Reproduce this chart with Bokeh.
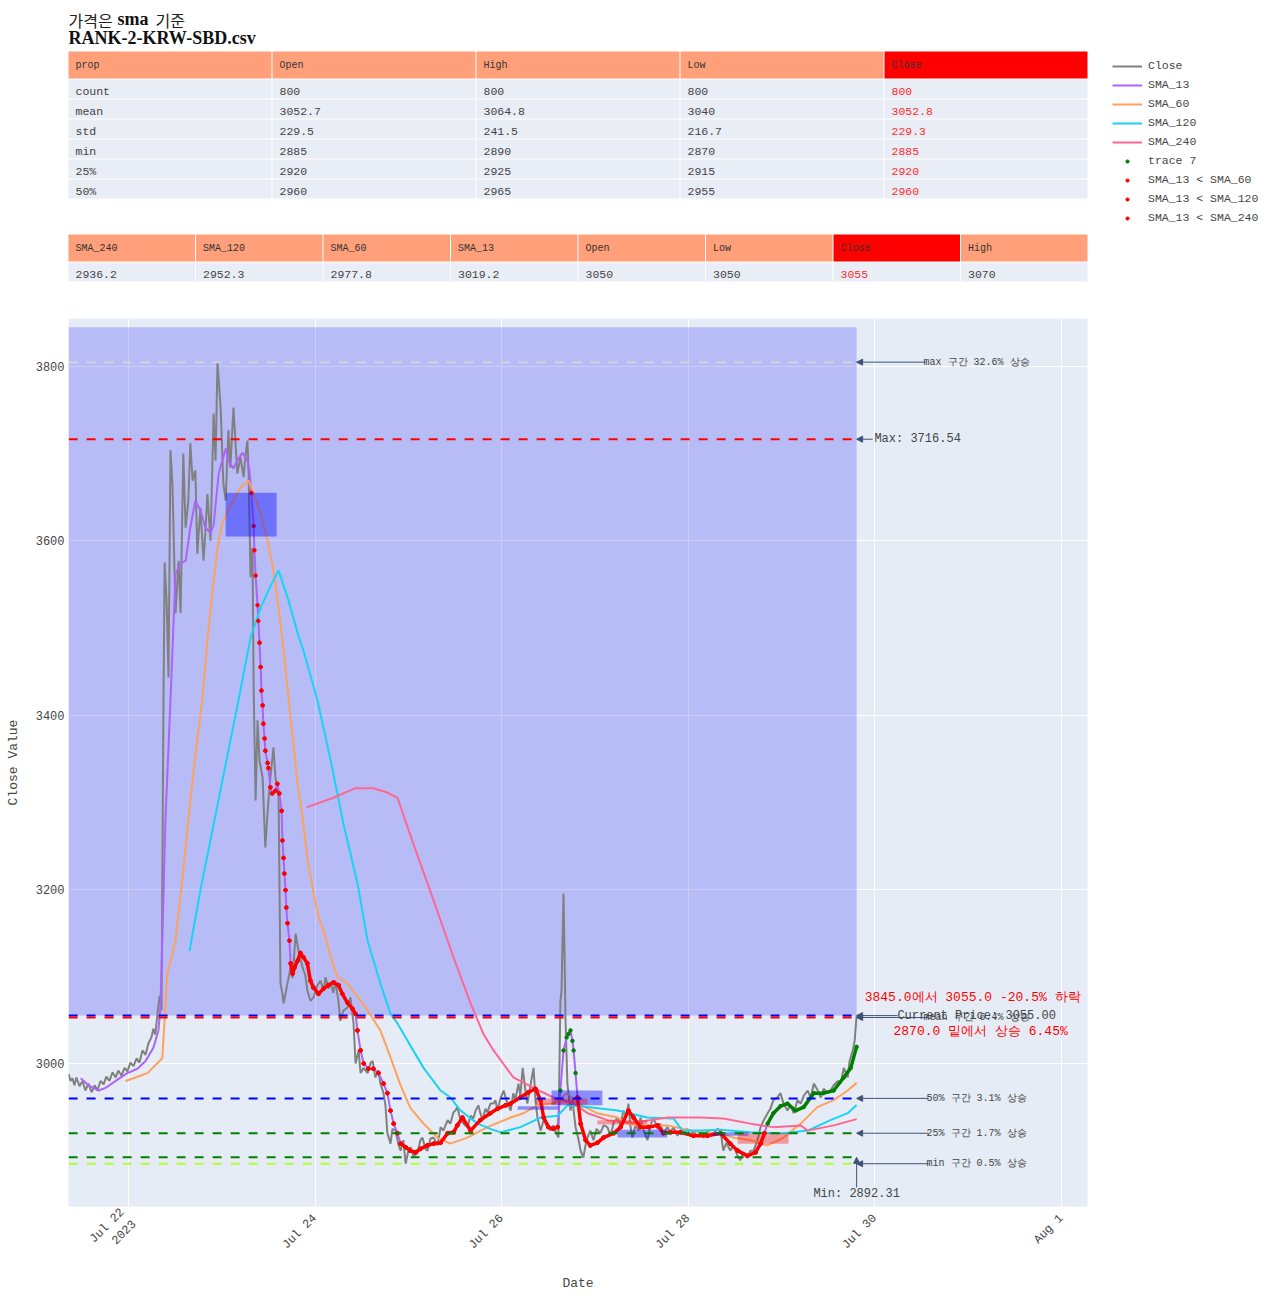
import math
import pandas as pd
from bokeh.plotting import figure
from bokeh.models import (Range1d, Legend, LegendItem, FixedTicker, Label, Arrow, NormalHead)
from bokeh.layouts import column, row
from bokeh.core.properties import value
from bokeh.embed import file_html
from bokeh.resources import INLINE

MONO = "Liberation Mono"
SERIF = "Liberation Serif"
KR = "Noto Sans CJK KR"

# ---------------- data ----------------
title_parts = ["가격은", "sma", "기준"]
title_line2 = "RANK-2-KRW-SBD.csv"

stats_header = ["prop", "Open", "High", "Low", "Close"]
stats_props = ["count", "mean", "std", "min", "25%", "50%"]
stats_open = [800, 3052.7, 229.5, 2885, 2920, 2960]
stats_high = [800, 3064.8, 241.5, 2890, 2925, 2965]
stats_low = [800, 3040, 216.7, 2870, 2915, 2955]
stats_close = [800, 3052.8, 229.3, 2885, 2920, 2960]

last_header = ["SMA_240", "SMA_120", "SMA_60", "SMA_13", "Open", "Low", "Close", "High"]
last_values = [2936.2, 2952.3, 2977.8, 3019.2, 3050, 3050, 3055, 3070]

# time in hours from 2023-07-22 00:00
close_h = [-15.4, -14.9, -14.4, -13.9, -13.4, -12.6, -11.8, -11.1, -10.3, -9.5, -8.7, -8.0, -7.2, -6.4,
           -5.7, -4.9, -4.1, -3.3, -2.6, -1.8, -1.0, -0.3, 0.5, 1.3, 2.1, 2.8, 3.6, 4.4, 5.1, 5.9, 6.4,
           6.9, 7.5, 8.0, 8.5, 9.0, 9.3, 9.8, 10.3, 10.8, 11.3, 12.1, 12.9, 13.4, 14.1, 14.7, 15.4, 15.9,
           16.5, 17.2, 17.7, 18.5, 19.3, 19.8, 20.3, 21.1, 21.9, 22.4, 22.9, 23.7, 24.4, 25.0, 25.7, 26.2,
           27.0, 27.5, 28.0, 28.8, 29.6, 30.1, 30.6, 30.9, 31.4, 31.9, 32.2, 32.7, 33.2, 33.7, 34.5, 35.2,
           35.8, 36.5, 37.3, 37.8, 38.6, 39.1, 39.6, 39.9, 40.9, 41.7, 42.2, 43.0, 43.7, 44.8, 45.5, 46.0,
           46.8, 47.6, 48.6, 49.4, 50.2, 50.7, 51.4, 52.0, 52.7, 53.2, 54.0, 54.5, 55.3, 56.3, 57.1, 57.9,
           58.4, 59.2, 59.7, 60.5, 61.5, 62.3, 62.8, 63.5, 64.3, 64.8, 65.6, 66.1, 66.6, 67.4, 67.9, 68.7,
           69.5, 70.0, 70.7, 71.3, 72.0, 72.5, 73.3, 74.3, 75.1, 75.6, 76.4, 76.9, 77.7, 78.5, 79.5, 80.3,
           81.0, 82.1, 82.8, 83.6, 84.1, 84.6, 85.4, 86.2, 87.2, 88.0, 88.7, 89.3, 90.0, 90.5, 91.1, 91.8,
           92.3, 93.1, 93.9, 94.4, 94.9, 95.7, 96.5, 97.2, 98.3, 99.0, 99.5, 100.3, 100.8, 101.4, 102.1,
           102.6, 103.4, 104.2, 104.7, 105.2, 106.0, 106.8, 107.8, 108.6, 109.3, 109.8, 110.6, 111.1,
           111.4, 111.9, 112.2, 112.4, 112.9, 113.7, 114.2, 115.0, 115.8, 116.3, 117.0, 117.8, 118.8,
           119.6, 120.4, 121.4, 122.2, 123.2, 124.0, 124.8, 125.8, 126.6, 127.3, 128.1, 128.6, 129.1,
           129.6, 130.4, 131.2, 131.7, 132.5, 133.5, 134.3, 135.0, 136.1, 136.8, 137.6, 138.6, 139.4,
           140.2, 141.2, 142.0, 142.8, 143.8, 144.5, 145.3, 146.4, 147.1, 147.9, 148.9, 149.7, 150.5,
           151.5, 152.3, 153.0, 153.8, 154.8, 155.6, 156.7, 157.4, 158.2, 159.2, 160.0, 160.8, 161.8,
           162.6, 163.4, 164.4, 165.1, 165.9, 166.9, 167.7, 168.5, 169.5, 170.3, 171.1, 172.1, 172.9,
           173.7, 174.7, 175.5, 176.3, 177.3, 178.1, 178.8, 179.9, 180.6, 181.4, 182.5, 183.2, 184.0,
           185.0, 185.5, 186.3, 186.8, 187.0, 187.3]
close_v = [2988, 2980, 2983, 2975, 2984, 2974, 2980, 2969, 2977, 2967, 2975, 2969, 2980, 2976,
           2985, 2980, 2990, 2984, 2992, 2986, 2995, 2991, 3001, 2997, 3006, 3001, 3015, 3010, 3023, 3030, 3040,
           3033, 3059, 3078, 3061, 3417, 3575, 3531, 3443, 3704, 3666, 3517, 3577, 3517, 3700, 3615, 3646, 3712,
           3669, 3681, 3585, 3638, 3577, 3612, 3654, 3600, 3746, 3692, 3805, 3753, 3666, 3646, 3727, 3684,
           3753, 3715, 3677, 3696, 3673, 3698, 3715, 3677, 3558, 3592, 3428, 3302, 3394, 3348, 3328, 3248,
           3290, 3328, 3363, 3328, 3310, 3092, 3080, 3069, 3092, 3110, 3098, 3149, 3130, 3110, 3101, 3084,
           3072, 3076, 3090, 3095, 3084, 3099, 3086, 3092, 3081, 3095, 3072, 3049, 3061, 3064, 3076, 3046,
           3000, 3015, 2989, 2995, 2989, 3001, 3003, 2984, 2992, 2977, 2966, 2952, 2920, 2908, 2925, 2923,
           2906, 2900, 2912, 2885, 2900, 2904, 2894, 2897, 2912, 2915, 2902, 2900, 2914, 2915, 2906, 2927,
           2923, 2935, 2931, 2944, 2946, 2950, 2935, 2931, 2927, 2940, 2937, 2946, 2952, 2943, 2935, 2948,
           2944, 2954, 2954, 2958, 2946, 2960, 2969, 2958, 2946, 2966, 2958, 2977, 2963, 2995, 2969,
           2954, 2975, 2995, 2958, 2938, 2923, 2935, 2931, 2923, 2929, 2923, 2915, 3072,
           3084, 3195, 3118, 3053, 2977, 2946, 2958, 2927, 2912, 2900, 2892, 2912, 2923,
           2912, 2925, 2920, 2929, 2927, 2917, 2932, 2938, 2929, 2946, 2940, 2954, 2929,
           2915, 2929, 2923, 2938, 2923, 2912, 2929, 2938, 2925, 2931, 2920, 2927, 2921,
           2927, 2917, 2923, 2920, 2925, 2917, 2923, 2916, 2920, 2915, 2923, 2918, 2920,
           2925, 2923, 2900, 2909, 2900, 2906, 2894, 2889, 2898, 2892, 2900, 2900, 2912,
           2927, 2935, 2943, 2948, 2958, 2961, 2966, 2954, 2946, 2952, 2943, 2958, 2954,
           2963, 2969, 2961, 2977, 2969, 2961, 2971, 2966, 2969, 2975, 2980, 2977, 2995,
           2984, 3003, 3015, 3026, 3038, 3055]

sma13_h = [-12.3, -10.3, -7.7, -5.9, -3.3, -0.3, 2.3, 4.4, 6.4, 7.7, 8.2, 8.7, 9.5, 10.8, 12.1, 13.4,
           14.7, 15.9, 17.2, 18.5, 19.8, 21.1, 21.9, 23.2, 25.0, 25.7, 27.0, 28.0, 29.3, 30.6, 31.1,
           31.6, 32.2, 32.4, 32.7, 33.2, 33.4, 33.7, 34.0, 34.2, 34.5, 34.7, 35.0, 35.2, 35.8, 36.0,
           36.5, 37.0, 37.8, 38.3, 38.8, 39.4, 39.6, 39.9, 40.1, 40.4, 40.6, 40.9, 41.4, 41.7, 42.2,
           42.7, 43.5, 44.2, 45.0, 46.0, 46.8, 47.6, 48.9, 50.2, 51.4, 52.7, 54.0, 55.0, 56.3, 57.6,
           58.4, 58.9, 59.7, 60.5, 61.7, 63.0, 64.3, 65.6, 66.6, 67.4, 68.2, 69.2, 70.0, 71.3, 72.5,
           73.8, 75.1, 76.9, 78.5, 80.3, 82.1, 83.6, 84.6, 85.9, 88.0, 90.5, 93.1, 94.9, 97.0, 98.3,
           100.8, 102.9, 104.7, 106.0, 106.8, 108.0, 109.3, 110.4, 111.1, 111.9, 112.7, 113.2, 113.7,
           114.2, 114.5, 115.0, 115.5, 116.3, 117.6, 118.8, 120.6, 122.2, 124.8, 126.6, 128.6, 129.9,
           131.7, 133.8, 136.1, 137.6, 139.4, 142.0, 145.3, 148.9, 152.3, 154.8, 156.7, 159.2, 161.3,
           162.6, 163.6, 164.4, 165.9, 167.7, 169.5, 171.6, 173.7, 176.3, 178.8, 181.4, 184.0, 185.8,
           187.3]
sma13_v = [2983, 2975, 2969, 2972, 2980, 2989, 2994, 3003, 3018, 3038, 3064, 3141, 3279, 3417, 3562, 3574,
           3577, 3615, 3646, 3635, 3615, 3609, 3618, 3677, 3706, 3692, 3683, 3692, 3701, 3692, 3681,
           3655, 3617, 3589, 3560, 3526, 3508, 3483, 3455, 3428, 3411, 3390, 3373, 3359, 3345, 3339,
           3317, 3310, 3313, 3321, 3310, 3290, 3256, 3236, 3218, 3199, 3179, 3161, 3141, 3115, 3103,
           3110, 3118, 3127, 3122, 3115, 3095, 3087, 3080, 3086, 3090, 3093, 3090, 3080, 3070, 3063,
           3057, 3038, 3015, 3000, 2994, 2994, 2989, 2977, 2966, 2946, 2931, 2920, 2908, 2904, 2900,
           2898, 2902, 2906, 2908, 2909, 2920, 2921, 2929, 2938, 2923, 2935, 2943, 2948, 2952, 2954,
           2961, 2967, 2971, 2958, 2938, 2927, 2925, 2927, 2969, 3015, 3030, 3034, 3038,
           3026, 3015, 2989, 2961, 2931, 2912, 2906, 2909, 2915, 2920, 2927, 2946, 2938,
           2927, 2927, 2929, 2920, 2921, 2921, 2917, 2917, 2920, 2908, 2900, 2894, 2898,
           2908, 2920, 2931, 2943, 2951, 2954, 2946, 2950, 2966, 2966, 2969, 2984, 2995,
           3019.2]

sma60_h = [-0.8, 1.8, 4.9, 6.9, 8.7, 10.0, 12.1, 14.1, 15.9, 17.7, 19.0, 20.3, 21.9, 22.9, 24.2, 25.7,
           27.5, 28.8, 30.1, 30.9, 32.2, 34.0, 35.8, 37.3, 38.6, 39.9, 41.7, 43.5, 44.8, 46.0, 47.6,
           48.9, 50.7, 52.5, 53.8, 56.3, 58.4, 61.5, 64.8, 67.4, 70.0, 72.5, 75.9, 79.5, 82.8, 87.2,
           92.3, 98.3, 101.6, 105.2, 109.3, 112.9, 115.5, 120.6, 125.8, 128.4, 131.7, 138.6, 142.8,
           147.1, 152.3, 155.6, 160.0, 164.4, 168.5, 172.9, 177.2, 181.4, 185.0, 187.3]
sma60_v = [2980, 2984, 2989, 2998, 3006, 3103, 3141, 3222, 3302, 3371, 3417, 3486, 3554, 3592, 3621, 3635,
           3650, 3661, 3666, 3669, 3654, 3631, 3600, 3566, 3523, 3474, 3397, 3321, 3282, 3236, 3195,
           3168, 3145, 3115, 3099, 3092, 3080, 3061, 3038, 3007, 2975, 2949, 2931, 2915, 2908, 2915,
           2927, 2938, 2943, 2952, 2954, 2966, 2954, 2943, 2938, 2931, 2929, 2929, 2925,
           2921, 2920, 2915, 2912, 2906, 2915, 2931, 2950, 2958, 2969, 2977.8]

sma120_h = [15.7, 18.5, 22.1, 25.2, 28.3, 31.4, 34.0, 36.0, 38.6, 41.2, 43.5, 45.0, 48.6, 52.0, 55.3,
            58.9, 61.5, 64.8, 67.4, 69.2, 71.8, 75.9, 80.3, 82.8, 85.4, 89.8, 93.1, 95.7, 100.8, 106.0,
            110.4, 112.9, 118.1, 125.8, 133.5, 140.2, 142.5, 147.1, 152.3, 160.0, 168.5, 174.7, 180.6,
            185.0, 187.3]
sma120_v = [3129, 3199, 3279, 3348, 3417, 3489, 3523, 3543, 3566, 3531, 3494, 3474, 3417, 3348, 3275,
            3207, 3141, 3092, 3057, 3046, 3026, 2995, 2969, 2961, 2946, 2931, 2925, 2921, 2927, 2938,
            2940, 2952, 2950, 2946, 2938, 2937, 2923, 2923, 2924, 2921, 2920, 2923, 2935,
            2943, 2952.3]

sma240_h = [45.8, 52.7, 58.4, 63.0, 66.6, 69.2, 73.3, 78.5, 83.6, 88.0, 91.3, 93.9, 99.0, 104.2, 109.3,
            114.5, 118.1, 123.2, 129.9, 138.6, 147.1, 153.0, 160.0, 165.9, 172.9, 174.7, 181.4, 187.3]
sma240_v = [3294, 3305, 3316, 3316, 3311, 3305, 3252, 3187, 3122, 3069, 3034, 3015, 2984, 2972, 2961,
            2954, 2943, 2935, 2932, 2938, 2938, 2937, 2931, 2927, 2929, 2923, 2929, 2936.2]

# SMA_13 condition periods (hours)
above_all_periods = [(110.9, 115.2), (164.2, 188.0)]
below_60_periods = [(31.5, 110.5), (115.3, 163.8)]
below_120_periods = [(33.5, 110.5), (115.3, 163.8)]
below_240_periods = [(45.8, 110.5), (115.3, 163.8)]

# highlighted zones: (start h, end h, low, high)
drop_zone = (-15.4, 187.3, 3055.0, 3845.0)
blue_zones = [(25.0, 38.1, 3605, 3655), (108.8, 121.9, 2952, 2969), (100.1, 110.6, 2947, 2951),
              (125.8, 138.6, 2915, 2924), (150.2, 159.5, 2917, 2921)]
red_zones = [(104.7, 118.1, 2953, 2960), (120.6, 133.5, 2930, 2935), (156.7, 169.8, 2908, 2920)]

level_values = [3805, 3716.54, 3055.0, 3052.8, 2960, 2920, 2892.31, 2885]
level_colors = ["lightgrey", "red", "blue", "red", "blue", "green", "green", "greenyellow"]

ann_texts = ["max 구간 32.6% 상승", "Max: 3716.54", "Current Price: 3055.00", "mean 구간 6.4% 상승",
             "50% 구간 3.1% 상승", "25% 구간 1.7% 상승", "min 구간 0.5% 상승"]
ann_values = [3805, 3716.54, 3055.0, 3052.8, 2960, 2920, 2885]
min_text = "Min: 2892.31"
min_value = 2892.31
drop_text = "3845.0에서 3055.0 -20.5% 하락"
rise_text = "2870.0 밑에서 상승 6.45%"

tick_days = ["2023-07-22", "2023-07-24", "2023-07-26", "2023-07-28", "2023-07-30", "2023-08-01"]
tick_labels = ["Jul 22\n2023", "Jul 24", "Jul 26", "Jul 28", "Jul 30", "Aug 1"]
y_ticks = [3000, 3200, 3400, 3600, 3800]

# ---------------- helpers ----------------
BASE_MS = pd.Timestamp("2023-07-22").value / 1e6
HOUR = 3600000.0


def tx(hours):
    return [BASE_MS + h * HOUR for h in hours]


def fmt(v):
    return f"{v:g}"


W = 1280
FRAME_L, FRAME_R, FRAME_B = 68, 193, 93

# ---------------- top panel (title, tables, legend) ----------------
TOP_H = 318
top = figure(width=W, height=TOP_H, x_range=Range1d(0, W), y_range=Range1d(TOP_H, 0),
             output_backend="svg", toolbar_location=None, min_border=0,
             x_axis_location=None, y_axis_location=None, outline_line_color=None,
             background_fill_color="white", border_fill_color="white")
top.grid.visible = False

# title
top.text(x=[68], y=[19], text=[title_parts[0]], text_font=value(KR), text_font_size="16px",
         text_baseline="middle", text_color="#222")
top.text(x=[117], y=[18], text=[title_parts[1]], text_font=value(SERIF), text_font_size="18px",
         text_font_style="bold", text_baseline="middle", text_color="#111")
top.text(x=[155], y=[19], text=[title_parts[2]], text_font=value(KR), text_font_size="16px",
         text_baseline="middle", text_color="#222")
top.text(x=[68], y=[37], text=[title_line2], text_font=value(SERIF), text_font_size="18px",
         text_font_style="bold", text_baseline="middle", text_color="#111")

CELL_BG = "#E9EDF6"
HEAD_BG = "#FFA07A"
TXT = "#444444"


def draw_table(fig, x0, x1, y_head, head_h, row_h, headers, rows, hl_col):
    n = len(headers)
    cw = (x1 - x0) / n
    lefts = [x0 + i * cw for i in range(n)]
    fig.quad(left=lefts, right=[l + cw - 1 for l in lefts], top=[y_head] * n,
             bottom=[y_head + head_h] * n,
             fill_color=["red" if i == hl_col else HEAD_BG for i in range(n)],
             line_color=None)
    fig.text(x=[l + 7 for l in lefts], y=[y_head + head_h / 2] * n, text=headers,
             text_font=value(MONO), text_font_size="10px", text_baseline="middle",
             text_color="#333333")
    for r, row_vals in enumerate(rows):
        yt = y_head + head_h + 1 + r * row_h
        fig.quad(left=lefts, right=[l + cw - 1 for l in lefts], top=[yt] * n,
                 bottom=[yt + row_h - 1] * n, fill_color=CELL_BG, line_color=None)
        fig.text(x=[l + 7 for l in lefts], y=[yt + row_h / 2 + 1.5] * n, text=row_vals,
                 text_font=value(MONO), text_font_size="11.5px", text_baseline="middle",
                 text_color=["#FF2B2B" if i == hl_col else TXT for i in range(n)])


rows1 = []
for i, prop in enumerate(stats_props):
    rows1.append([prop, fmt(stats_open[i]), fmt(stats_high[i]), fmt(stats_low[i]), fmt(stats_close[i])])
draw_table(top, 68, 1088, 51, 27, 20, stats_header, rows1, hl_col=4)
draw_table(top, 68, 1088, 234, 27, 20, last_header, [[fmt(v) for v in last_values]], hl_col=6)

COL_CLOSE = "#808080"
COL_13 = "#AB63FA"
COL_60 = "#FFA15A"
COL_120 = "#19D3F3"
COL_240 = "#FF6692"
leg_specs = [("Close", "line", COL_CLOSE), ("SMA_13", "line", COL_13), ("SMA_60", "line", COL_60),
             ("SMA_120", "line", COL_120), ("SMA_240", "line", COL_240), ("trace 7", "dot", "green"),
             ("SMA_13 < SMA_60", "dot", "red"), ("SMA_13 < SMA_120", "dot", "red"),
             ("SMA_13 < SMA_240", "dot", "red")]
items = []
OFF = -5000  # proxies placed far outside the view; only their legend swatches show
for name, kind, col in leg_specs:
    if kind == "line":
        r = top.line(x=[OFF, OFF + 1], y=[OFF, OFF + 1], line_color=col, line_width=2)
    else:
        r = top.scatter(x=[OFF], y=[OFF], marker="circle", size=3.5, fill_color=col, line_color=col)
    items.append(LegendItem(label=name, renderers=[r]))
legend = Legend(items=items, location=(1112, TOP_H - 56 - 9 * 19), glyph_width=30,
                glyph_height=8, label_height=19, spacing=0, padding=0, margin=0, label_standoff=6,
                border_line_color=None, background_fill_alpha=0,
                label_text_font=MONO, label_text_font_size="11.5px", label_text_color=TXT)
top.add_layout(legend)

# ---------------- main chart ----------------
MAIN_H = 1299 - TOP_H
frame_w = W - FRAME_L - FRAME_R
frame_h = MAIN_H - FRAME_B
x_lo_h, x_hi_h = -15.43, 246.69
y_lo, y_hi = 2835.9, 3855.1
px_h = (x_hi_h - x_lo_h) / frame_w     # hours per pixel
px_v = (y_hi - y_lo) / frame_h         # value per pixel

p = figure(width=W, height=MAIN_H, x_axis_type="datetime",
           x_range=Range1d(BASE_MS + x_lo_h * HOUR, BASE_MS + x_hi_h * HOUR),
           y_range=Range1d(y_lo, y_hi), output_backend="svg", toolbar_location=None,
           min_border_left=FRAME_L, min_border_right=FRAME_R, min_border_top=0,
           min_border_bottom=FRAME_B, background_fill_color="#E5ECF6",
           border_fill_color="white", outline_line_color=None)
p.grid.grid_line_color = "white"
p.grid.grid_line_width = 1

p.quad(left=tx([drop_zone[0]]), right=tx([drop_zone[1]]), bottom=[drop_zone[2]], top=[drop_zone[3]],
       fill_color="blue", fill_alpha=0.2, line_color=None)

p.line(tx(close_h), close_v, line_color=COL_CLOSE, line_width=2)
p.line(tx(sma13_h), sma13_v, line_color=COL_13, line_width=2)
p.line(tx(sma60_h), sma60_v, line_color=COL_60, line_width=2)
p.line(tx(sma120_h), sma120_v, line_color=COL_120, line_width=2)
p.line(tx(sma240_h), sma240_v, line_color=COL_240, line_width=2)


def pick(periods):
    xs, ys = [], []
    for h, v in zip(sma13_h, sma13_v):
        if any(a <= h <= b for a, b in periods):
            xs.append(h)
            ys.append(v)
    return xs, ys


dense_periods = [(41.5, 58.5), (69.5, 110.5), (115.3, 163.8)]
for a, b in dense_periods:
    xs, ys = pick([(a, b)])
    p.line(tx(xs), ys, line_color="red", line_width=3.5)
xs, ys = pick([(164.2, 188.0)])
p.line(tx(xs), ys, line_color="green", line_width=3.5)

for periods, col in [(above_all_periods, "green"), (below_60_periods, "red"),
                     (below_120_periods, "red"), (below_240_periods, "red")]:
    xs, ys = pick(periods)
    p.scatter(tx(xs), ys, marker="circle", size=3.5, fill_color=col, line_color=col)

for zones, col, alpha in [(blue_zones, "blue", 0.4), (red_zones, "red", 0.35)]:
    p.quad(left=tx([z[0] for z in zones]), right=tx([z[1] for z in zones]),
           bottom=[z[2] for z in zones], top=[z[3] for z in zones],
           fill_color=col, fill_alpha=alpha, line_color=None)

t_first, t_last = close_h[0], close_h[-1]
for val, col in zip(level_values, level_colors):
    p.line(tx([t_first, t_last]), [val, val], line_color=col, line_width=2, line_dash="9 9")

ARROW_C = "#3d5375"
end_ms = tx([t_last])[0]
tail_px = [69, 16, 41, 72, 72, 72, 72]
center_px = [120, 61, 120, 120, 120, 120, 120]
sizes = ["10px", "12px", "12px", "10px", "10px", "10px", "10px"]
for txt, val, tp, cp, fs in zip(ann_texts, ann_values, tail_px, center_px, sizes):
    p.add_layout(Arrow(end=NormalHead(size=6, fill_color=ARROW_C, line_color=ARROW_C),
                       x_start=end_ms + tp * px_h * HOUR, y_start=val, x_end=end_ms, y_end=val,
                       line_color=ARROW_C, line_width=1))
    p.add_layout(Label(x=end_ms + cp * px_h * HOUR, y=val, text=txt, text_align="center",
                       text_baseline="middle", text_font=MONO, text_font_size=fs,
                       text_color=TXT))

p.add_layout(Arrow(end=NormalHead(size=6, fill_color=ARROW_C, line_color=ARROW_C),
                   x_start=end_ms, y_start=min_value - 30 * px_v, x_end=end_ms, y_end=min_value,
                   line_color=ARROW_C, line_width=1))
p.add_layout(Label(x=end_ms, y=min_value - 37 * px_v, text=min_text, text_align="center",
                   text_baseline="middle", text_font=MONO, text_font_size="12px", text_color=TXT))

p.add_layout(Label(x=end_ms + 116 * px_h * HOUR, y=3055.0 + 18 * px_v, text=drop_text,
                   text_align="center", text_baseline="middle", text_font=MONO,
                   text_font_size="13px", text_color="red"))
p.add_layout(Label(x=end_ms + 124 * px_h * HOUR, y=3055.0 - 16 * px_v, text=rise_text,
                   text_align="center", text_baseline="middle", text_font=MONO,
                   text_font_size="13px", text_color="red"))

tick_ms = [pd.Timestamp(d).value / 1e6 for d in tick_days]
p.xaxis.ticker = FixedTicker(ticks=tick_ms)
p.xaxis.major_label_overrides = {t: lab for t, lab in zip(tick_ms, tick_labels)}
p.xaxis.major_label_orientation = math.pi / 4
p.yaxis.ticker = FixedTicker(ticks=y_ticks)
for ax in (p.xaxis[0], p.yaxis[0]):
    ax.axis_line_color = None
    ax.major_tick_line_color = None
    ax.minor_tick_line_color = None
    ax.major_tick_out = 0
    ax.major_tick_in = 0
    ax.minor_tick_out = 0
    ax.minor_tick_in = 0
    ax.major_label_text_font = MONO
    ax.major_label_text_font_size = "12px"
    ax.major_label_text_color = TXT
    ax.axis_label_text_font = MONO
    ax.axis_label_text_font_size = "13px"
    ax.axis_label_text_font_style = "normal"
    ax.axis_label_text_color = TXT
p.yaxis.major_label_standoff = 4
p.xaxis.major_label_standoff = 10
p.yaxis.axis_label = "Close Value"
p.xaxis.axis_label = "Date"
p.yaxis.axis_label_standoff = 12
p.xaxis.axis_label_standoff = 4

layout = column(row(top), row(p), spacing=0)
open("out.html", "w").write(file_html(layout, INLINE))
